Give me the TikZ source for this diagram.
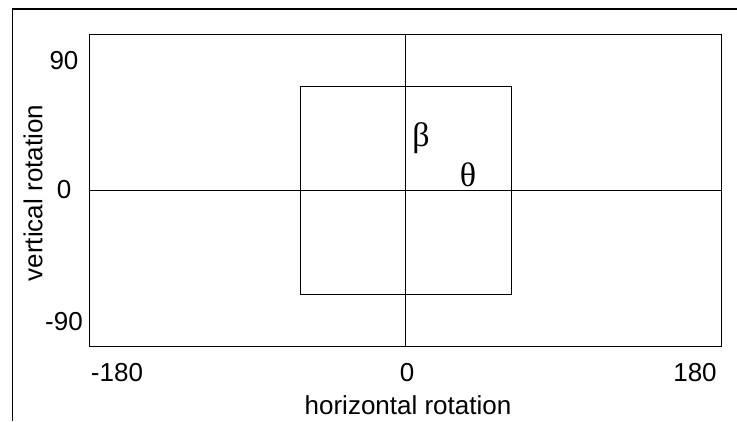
\documentclass[tikz,border=0pt]{standalone}
\usepackage{fontspec}
\setmainfont{Liberation Sans}
\newfontfamily\greekfont{Liberation Serif}

\begin{document}
\begin{tikzpicture}[x=1pt, y=-1pt,
    every node/.style={font=\fontsize{26}{30}\selectfont, inner sep=0pt},
    greek/.style={font=\greekfont\fontsize{34}{38}\selectfont}]
    \useasboundingbox (0,0) rectangle (737,421);

    % outer frame (left and top only)
    \draw[line width=1.3pt] (12.5,421) -- (12.5,9) -- (737,9);

    % plot box and axes
    \draw[line width=0.9pt] (89.5,34) rectangle (721.5,346.5);
    \draw[line width=0.9pt] (405.5,34) -- (405.5,346.5);
    \draw[line width=0.9pt] (89.5,190.5) -- (721.5,190.5);

    % inner square
    \draw[line width=0.9pt] (300.5,86) rectangle (511.5,294);

    % tick labels
    \node (y90)  at (64,61)  {90};
    \node (y0)   at (64,190) {0};
    \node (ym90) at (64,322) {-90};
    \node (xm180) at (117,373) {-180};
    \node (x0)    at (407,373) {0};
    \node (x180)  at (695,373) {180};

    % axis titles
    \node (xlab) at (408,405) {horizontal rotation};
    \node[rotate=90] (ylab) at (33,193) {vertical rotation};

    % angle labels
    \node[greek] (beta)  at (421,138) {β};
    \node[greek] (theta) at (468,175) {θ};
\end{tikzpicture}
\end{document}
